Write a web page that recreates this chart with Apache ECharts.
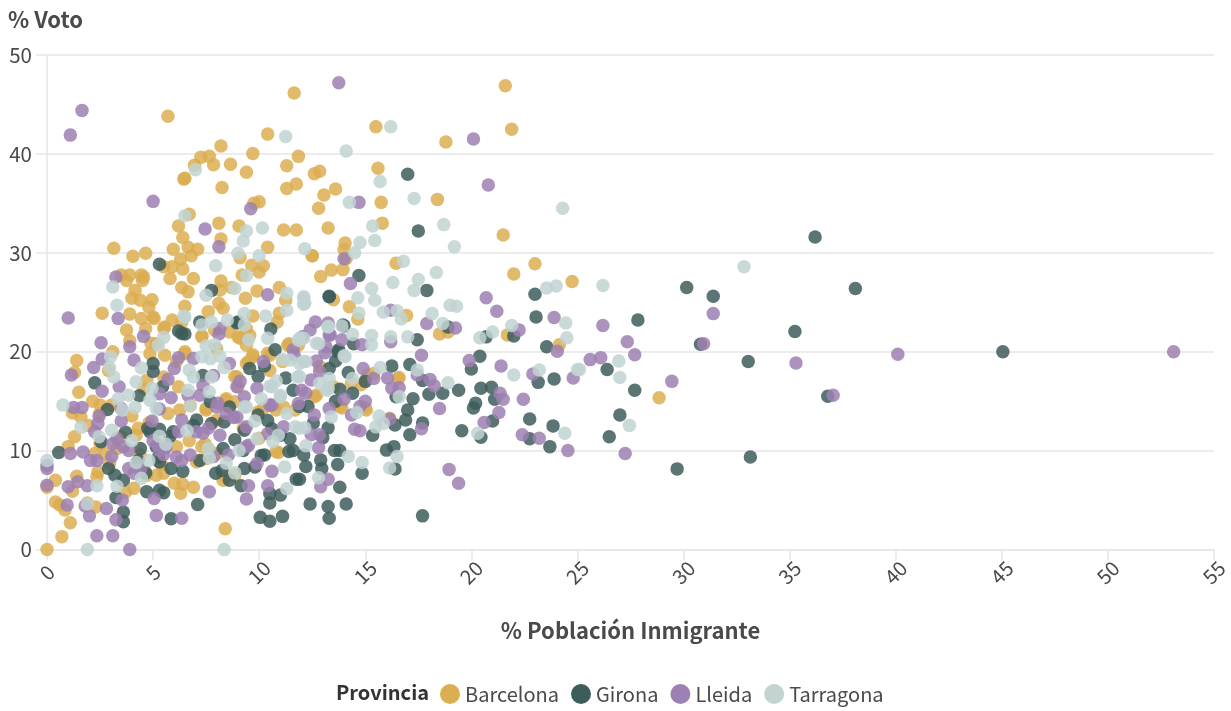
<!DOCTYPE html>
<html><head><meta charset="utf-8">
<style>html,body{margin:0;padding:0;background:#fff}#c{width:1231px;height:711px}</style>
<script src="https://cdn.jsdelivr.net/npm/echarts@6/dist/echarts.min.js"></script>
</head><body><div id="c"></div>
<script>
const xTitle = "% Población Inmigrante";
const yTitle = "% Voto";
const legendTitle = "Provincia";
const provinces = ["Barcelona","Girona","Lleida","Tarragona"];
const colors = ["#dcae52","#3d5d5b","#9e80b2","#c1d4d2"];

const barcelona = [
[21.6,46.9],[15.5,42.75],[21.9,42.5],[18.8,41.2],[15.6,38.55],[15.75,35.1],[18.4,35.4],[13.6,36.45],[13.05,35.85],[12.8,34.5],[13.25,32.5],[15.8,33],[21.5,31.8],[14.05,31],[14,30.3],[14.1,29.4],[12.5,29.7],[16.45,28.95],[23,28.9],[22,27.85],[24.75,27.1],[13.4,28.25],[12.9,27.6],[13.95,28.3],[13.5,25.25],[14.25,24.55],[14.65,23.3],[16.95,23.65],[18.5,21.8],[18.9,22],[21.7,21.7],[12.6,38],[12.85,38.25],[11.85,39.75],
[28.85,15.35],[16.6,17.4],[24.15,20.7],[15.1,17.65],[14.8,16.65],[14.35,16.8],[13.8,14.45],[15,14.3],[12.6,15.45],[13.5,16.45],[16.15,13.25],[12.85,18.5],
[5.7,43.8],[8.2,40.8],[7.25,39.65],[7.65,39.75],[6.95,38.85],[7.85,38.9],[8.65,38.95],[9.7,40.05],[10.4,42],[9.4,38.15],[11.65,46.15],[11.3,38.8],[6.45,37.45],[6.5,37.55],[8.25,36.6],[11.3,36.5],[11.75,36.95],[10,35.15],[9.75,35],[6.7,33.9],[8.1,33],[6.2,32.7],[9.05,32.7],[11.15,32.3],[11.75,32.3],[6.4,31.55],[8.2,31.4],[10.4,30.55],[3.15,30.45],[4.65,29.95],[4.05,29.65],[5.95,30.35],[6.65,30.55],[7.1,30.35],[6.8,29.7],[6.3,29.35],[9.1,29.5],[9.65,28.75],[10.2,28.7],[10,28.05],[9.2,27.75],[5.9,28.6],[5.5,28.6],[6.4,28.35],[3.5,27.75],[3.9,27.75],[4.45,27.75],[4.55,27.55],[12.5,29.7],
[5.8,27.4],[6.9,27.4],[6.35,26.5],[6.65,26.05],[8.2,27.15],[8.15,26.25],[8.7,26.5],[9.9,26.15],[9.35,25.4],[10.95,26.5],[11.25,25.2],[6.5,24.6],[7.6,24.05],[8.1,24.9],[8.3,24.4],[4.95,25.25],[5.9,23.2],[5.55,22.5],[9.7,23.6],[10.95,23.9],[10.85,23],[5,23.5],[7.3,21.6],[8.6,22],[9,21.5],[11.4,20.8],[5.15,20.8],[6.5,20],
[3.75,27.2],[4.15,26.2],[4,25.4],[4.5,27.2],[4.4,25.2],[4.8,24.5],[3.9,23.8],[2.6,23.9],[4.45,23.35],[5.05,23.35],[3.75,22.2],[3.9,21.1],[4.65,22.35],[4.9,20.85],[5.5,22.35],[6.35,23],[7.9,22.2],[9.4,22.35],[9.1,21.35],[9.55,21.65],[9.4,20.65],[7.3,21.5],[8,20.3],[5.55,19.65],[4.85,19.8],[6.5,19.8],[6.1,19],[9.7,19.5],[9.4,18.8],[10.5,19.65],[11.35,20.65],[11.85,20.65],[11.1,19],[10.5,18.1],[4.7,17.1],[4.55,16.3],[6.2,16.45],[5.5,17.45],[5.7,13.75],[6.25,14.1],[6.75,14.6],[7.5,14.25],[8.45,15.25],[8.85,14.95],[8.95,17.45],[9,16.45],[10.2,14.25],[9.95,13.9],[11.15,14.4],[10.8,14.1],
[2.15,15],[2.5,14.6],[3.05,14.6],[1.95,12.55],[2.5,13.75],[4.3,12.25],[4.2,11.55],[2.75,9.7],[2.25,9.7],[2.4,7.85],[2.35,7.35],[2.95,8.7],[4.7,7.5],[5.15,7.5],[5.5,7.7],[6.1,10.4],[7.6,10.2],[10.8,9.9],[8.3,7],[8.45,7.35],[7.05,8.85],[4.4,9.55],[2.5,10.7],
[0,0],[0.7,1.3],[1.1,2.7],[0.85,4],[0.4,4.8],[0.6,4.5],[0,6.3],[0.4,7],[1.2,5.9],[1.4,7.4],[1.9,4.7],[2.3,4.3],[4.1,6.2],[3.7,5.8],[1,10.4],[1.3,11.4],[1.2,13.8],[1.6,13.4],[1.5,15.9],[1.4,19.1],[1.3,17.9],[3.1,20],[2.9,18.1],[8.4,2.1],[6.3,5.7],[6,6.7],[6.4,6.6],[6.9,6.3],
[8.4,15.1],[7.5,14.1],[8,13.1],[9.25,12.25],[10,11.25],[10.9,9.8],[7.3,10.4],[7.5,9.2],[8.85,7.5],[9.7,19.7],[9.5,19],[10.4,19.85],[11.45,20.7],[8.85,17.5],[15.05,14.1],[13.9,14.3],[12.7,15.6],[11.7,14.1],[15.4,17.8],[16.55,17.3],[8,9.7],[7.45,10.7],[4.8,12.8],[5.4,8.6],[3.3,10.2],[3.5,11.4],[6.7,11],[4,13.5]
];

const girona = [
[36.2,31.6],[38.1,26.4],[30.15,26.5],[31.4,25.6],[27.85,23.2],[35.25,22.05],[30.8,20.75],[33.05,19],[26.4,18.2],[27.7,16.1],[36.8,15.5],[27,13.6],[26.5,11.4],[33.15,9.35],[29.7,8.15],[45.05,20],
[17,37.95],[17.5,32.2],[14.7,27.7],[17.9,26.2],[13.3,25.55],[23,25.8],[23.05,23.5],[22,21.6],[18.9,22.5],[14,22.6],[20.7,21.5],
[17.45,21.2],[20.4,19.55],[20,18.25],[23.55,20.5],[23.15,16.9],[23.9,17.25],[17.1,18.7],[16.25,18.55],[17.7,17.1],[18,15.7],[18.65,15.8],[19.4,16.1],[20.45,16.3],[20.95,16.4],[21.1,15.2],[17.25,15.25],[16.45,15.45],[17,14.1],[16.9,13.1],[16.4,12.6],[17.7,12.8],[17.1,11.6],[15.35,11.55],[20.2,14.8],[20.1,14.3],[21,13],[22.75,13.2],[23.85,12.5],[19.55,12],[20.45,11.35],[22.75,11.2],[23.7,10.4],[16.35,10.4],[16,10.05],[16.4,8.15],[14.85,7.7],[13.8,6.3],[12.4,4.6],[13.25,4.35],[14.1,4.6],[13.3,3.15],[17.7,3.4],
[14.45,20.8],[15,17],[14.4,15.8],[13.8,16.2],[13.6,15],[14.2,17.9],[13.7,20],[13.6,19.05],[13.3,18.3],[13.25,12.3],[12.55,12.8],[12.3,14.45],[11.9,14.45],[12.1,9.55],[13.55,10],[13.8,10],[13.7,8.6],[12.9,9.05],[12.95,8.2],[12.2,8.4],[11.9,7.1],[13,11.3],
[5.3,28.85],[7.75,26.2],[13.3,25.6],[7.2,23],[9,23],[10.55,22.3],[6.2,22.1],[6.35,21.85],[6.5,21.8],[13.95,22.7],[10.75,20.2],[13.75,20.2],
[0.55,9.8],[2.25,16.85],[2.85,14.15],[4.35,15.55],[5,18.8],[5,18],[5.45,16.45],[8.95,22.9],[9.55,18.3],[9.95,17.5],[10.25,18.55],[11.25,17.35],[11.6,16.1],[7.35,17.6],[7.7,14.95],[8.6,14.4],[8.35,12.9],[9.95,13.6],[10.4,13.05],[7.75,12.75],[7.05,13.1],[6.9,12.55],[3.7,11.85],[4.75,12.25],[5.3,12.15],[5.95,11.9],[5.8,11.45],[4.4,10.2],[2.55,10.9],[2.9,8.2],[3.2,7.5],[3.6,7],[3.25,5.25],[3.6,3.8],[3.6,2.8],[4.65,7.75],[4.7,5.85],[5.3,6],[5.5,5.75],[5.3,8.85],[5.25,9.35],[5.85,8.2],[6.4,7.9],[7.2,9],[7.95,7.7],[8.25,8],[8.6,7],[8.85,11.1],[8.3,10.2],[9.3,8.2],[9.8,8.35],[10.25,9.55],[9.15,6.45],[10.5,5.65],[10.5,4.7],[11,5.5],[10.05,3.25],[10.5,2.85],[11.1,3.35],[7.1,4.55],[5.85,3.1],[11.4,9.9],[11.6,10],[11.75,7.1],[4.3,9],[5.15,10.4],[4.85,11.9],[9.3,12.05],
[9.25,10],[11.45,11.2],[11,11.55],[10.6,12.2],[10.1,9.5]
];

const lleida = [
[53.1,20],[40.1,19.75],[35.3,18.85],[37.05,15.6],[31.4,23.85],[30.95,20.8],[29.45,17],[27.7,19.7],[27.35,21],[26.2,22.65],[25.6,19.2],[26.1,19.4],[27.25,9.7],
[13.75,47.2],[20.1,41.5],[20.8,36.85],[14.7,35.1],[14,29.4],[14.3,26.9],[20.7,25.45],[21.2,24.1],[23.9,23.45],[16.2,24.2],[17.9,22.85],[19.25,22.4],[22.25,22.2],[12.65,23],[13.25,22.9],[12.4,22.2],[24.05,20.05],
[17.65,19.65],[19.9,19.1],[21.4,18.55],[22.9,17.75],[24.8,17.35],[21.35,15.8],[21.5,15.2],[22.45,15.2],[21.3,13.85],[20.6,12.85],[22.4,11.6],[23.2,11.25],[24.55,10],[18.5,14.25],[18.95,8.1],[19.4,6.7],[17.45,17.65],[18.05,17.2],[18.25,16.55],[16.05,17.35],[15.4,17.3],[14.9,18.3],[16.25,16.3],[16.6,16.35],[14,15.2],[15,15],[13.3,14.25],[14.35,13.6],[14.75,14.45],[16.15,13.2],[14.5,12.15],[14.75,12],[17.65,12.2],[12.85,11.6],[12.45,11.6],[12.6,13.6],[12.8,10.3],[13.25,7.1],[12.9,6.35],[12.45,17.15],[12.2,15.8],[12,16.1],[16.2,21],[14.85,20.7],[13.9,21.2],[13.1,19.9],[12.7,19.05],[12.85,18],[13.3,21.7],
[5,35.2],[9.6,34.45],[7.45,32.4],[8.1,30.6],[10.4,25.75],[8.15,22.35],[8.1,21.8],[12.05,21.5],[13.35,21.7],[13.15,20.5],[11.6,20.2],
[1.65,44.4],[1.1,41.9],[3.25,27.55],[1,23.4],[3.35,23.35],[2.55,20.9],[3.9,20.5],[4.55,21.55],[4.1,19.15],[2.6,19.25],[2.2,18.4],[1.15,17.65],[2.6,16],[3.4,16.45],[5.85,15.35],[5.3,15.75],[5.7,17.2],[6,18.3],[6.2,19.4],[6.9,19.3],[8.6,18.8],[10.2,19],[11.65,19.65],[9.1,17],[8.95,16.45],[9.9,16.3],[9.3,15.45],[7.85,17.6],[7.35,16.6],[7.2,15.6],[6.65,15.6],[8,14.4],[8.45,13.75],[8.95,13.4],[10.6,14.6],[11.85,14.75],[1.25,14.35],[1.65,14.35],[2.45,13.5],[2.4,12.75],[3.5,13],[4.95,13],[5.3,14.2],[3.5,14.25],[2.25,11.9],[3.1,10.7],[3.05,9.4],[3.85,10],[1.1,9.7],[1.7,9.85],[2.05,9],[2.35,9],[0,8.2],[0,8.5],[0,6.5],[1,6.35],[1.45,6.85],[1.9,6.45],[0.95,4.5],[1.8,4.4],[2,3.4],[2.8,4.15],[3.25,3],[3.55,5],[2.35,1.4],[3.1,1.4],[3.9,0],[5.15,3.45],[6.35,3.15],[5.05,5.15],[7.65,5.85],[9.4,5.1],[9.5,6.45],[10.4,6.45],[10.6,7.9],[9.9,8.7],[3.85,8.2],[4.1,7.7],[5,11],[5.3,10],[6.1,9.35],[6.35,9],[6.75,9.55],[7.85,9.4],[8.55,9.55],[7.05,11.9],[7.35,11.75],[7.6,12.25],[6.35,13.1],[6.2,11.9],[8.15,11.55],[8.8,13.35],[9.4,12.4],[9.4,10.4],[11.15,12.4],[10.4,11.7],
[9.5,10.55],[10.5,14.6],[8.05,14.8],[3.3,11.2],[3.6,10.4],[5.2,10.6],[5.6,10.3],[4.4,8.1],[5.5,9.6]
];

const tarragona = [
[32.85,28.6],[26.2,26.7],[26.95,19.05],[27,17.4],[27.45,12.55],[25.1,18.2],
[16.2,42.75],[14.1,40.3],[15.7,37.2],[17.3,35.5],[14.25,35.1],[24.3,34.5],[18.7,32.85],[15.35,32.7],[14.75,31.05],[15.45,31.25],[19.2,30.6],[12.15,30.4],[14.5,30],[16.8,29.15],[18.35,28],[16.3,27],[17.5,27.3],[15.3,26.4],[17.3,26.2],[15.45,25.2],[14.65,25.45],[23.55,26.45],[24,26.65],[12.1,25.4],[12.15,24.9],[19,24.7],[19.3,24.6],[15.85,24],[16.5,24.15],[16.7,23.3],[18.15,23.85],[14.7,23.9],[18.65,22.85],[21.9,22.65],[24.45,22.9],[21,22],[24.5,21.4],[13.9,22.6],[13.25,22.5],[20.4,21.4],[17,21.5],[16.2,21.5],[15.3,21.65],
[15.3,20.7],[14.4,21.75],[14.05,19.5],[15.7,18.4],[17.45,18.15],[25,18.2],[23.2,18.15],[22,17.65],[18.9,16.85],[16.6,15.45],[14.6,13.85],[13.4,13.4],[15.65,13.5],[15.85,12.75],[15.5,12.4],[24.4,11.75],[20.3,11.75],[12.2,10.5],[14.2,9.4],[16.5,9.4],[14.85,8.8],[16.15,8.25],[12.8,7.25],[13.3,17.3],[13.25,16.3],[12.85,16.8],[12.15,12.3],[11.9,12.25],[12.7,20.85],[12.1,21.35],[12.1,19],[11.9,17.5],[14.4,17.3],
[11.25,41.75],[7,38.4],[6.5,33.75],[9.4,32.2],[10.15,32.5],[9.25,31.2],[9,29.95],[10,29.7],[7.95,28.7],[9.4,27.7],[8.85,26.4],[7.5,25.7],[11.3,25.9],[12.1,25.55],[12.1,24.8],[11.3,24.2],[6.5,23.5],[10.3,23.6],[9.3,23.85],[8.5,23.2],[7.75,23],[7.3,22.7],[9.3,22.7],[10.4,21.35],[9.5,21.2],[5.5,21.45],[5.25,20.65],[7.5,20.6],[7.9,20.7],[13.25,22.55],[11.9,21.35],[12.8,20.8],
[3.1,26.55],[3.3,24.7],[6.45,23.6],[7.3,19.5],[7.7,19.3],[8.15,19.55],[8.35,18.4],[6.7,18.15],[6.9,17.45],[7.75,17.45],[7.65,15.95],[6.65,16.1],[4.2,16.95],[3.15,17.45],[3,19.5],[2.95,18.4],[4.45,18.35],[4.95,16.3],[4.85,15.1],[5.15,14.25],[3.85,15.6],[3.35,15.25],[4.15,14.35],[3.55,14.1],[0.75,14.6],[1.6,12.35],[3.05,12.05],[2.45,11.4],[4,11],[5.3,11.45],[5.6,10.65],[4.8,9],[4.2,8.8],[4.45,7.2],[0,9],[6.6,12],[6.75,14.5],[9.4,14.4],[10.1,15.25],[7.6,10.2],[7.65,9.25],[9.05,10],[8.45,8.75],[8.85,7.75],[9.9,11.2],[11.2,8.35],[11.3,6.15],[10.65,10.9],[2.35,6.45],[3.3,6.4],[1.9,4.6],[1.9,0],[8.35,0],[10.6,16.45],[11,15.45],[11.3,13.75],[11.7,12.4],[11.45,19.15],[11.8,17.45],[11.85,21.15],
[11.1,19.2],[11.9,18.8],[12.2,19],[13.2,16.1],[14,19.6],[10.8,17.05],[10.5,16.5],[11,15.6],[9.3,14.4],[9.8,13],[10.9,11.55]
];

const xMax = 55, xStep = 5, yMax = 50, yStep = 10;
const seriesData = [barcelona, girona, lleida, tarragona];

const fontFam = "'Noto Sans CJK SC', Lato, sans-serif";
const chart = echarts.init(document.getElementById('c'), null, {renderer:'canvas'});
chart.setOption({
  animation:false,
  textStyle:{fontFamily:fontFam},
  grid:{left:47,right:16,top:55,bottom:161.5,containLabel:false},
  xAxis:{type:'value',min:0,max:xMax,interval:xStep,
    name:xTitle,nameLocation:'middle',nameGap:70,
    nameTextStyle:{fontFamily:fontFam,fontSize:22,fontWeight:'bold',color:'#4a4a4a'},
    axisLine:{show:true,lineStyle:{color:'#e6e6e6',width:1.5}},
    axisTick:{show:true,length:11,lineStyle:{color:'#e6e6e6',width:1.5}},
    axisLabel:{rotate:45,fontSize:20,color:'#4a4a4a',margin:23,fontFamily:fontFam,align:'center',verticalAlign:'middle'},
    splitLine:{show:false}},
  yAxis:{type:'value',min:0,max:yMax,interval:yStep,
    name:yTitle,nameLocation:'end',nameGap:24,
    nameTextStyle:{fontFamily:fontFam,fontSize:22,fontWeight:'bold',color:'#4a4a4a',align:'left',padding:[0,0,0,-39]},
    axisLine:{show:true,lineStyle:{color:'#e6e6e6',width:1.5}},
    axisTick:{show:true,length:11,lineStyle:{color:'#e6e6e6',width:1.5}},
    axisLabel:{fontSize:20.5,color:'#4a4a4a',margin:15,fontFamily:fontFam},
    splitLine:{show:true,lineStyle:{color:'#e6e6e6',width:1.5}}},
  legend:{show:true,left:440,top:684,padding:0,itemWidth:20,itemHeight:22,itemGap:12,icon:'circle',symbolKeepAspect:false,
    data:provinces,itemStyle:{opacity:1},
    textStyle:{fontSize:20,color:'#4a4a4a',fontFamily:fontFam,padding:[-3,0,0,0]}},
  graphic:[{type:'text',left:336,top:682,style:{text:legendTitle,fontFamily:fontFam,fontSize:20,fontWeight:'bold',fill:'#333'}}],
  series:provinces.map((p,i)=>({name:p,type:'scatter',data:seriesData[i],symbol:'circle',symbolSize:13.5,
    itemStyle:{color:colors[i],opacity:0.85},clip:false,silent:true}))
});
</script></body></html>
